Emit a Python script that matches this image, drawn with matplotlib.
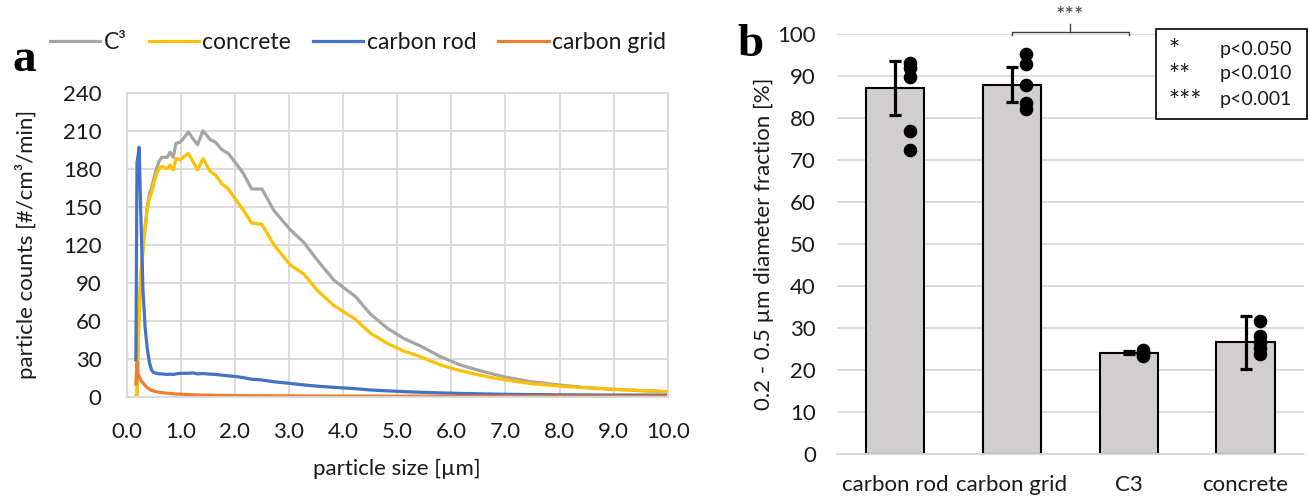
import matplotlib
matplotlib.use('Agg')
import matplotlib.pyplot as plt
from matplotlib.patches import Rectangle

plt.rcParams['font.family'] = ['Lato', 'DejaVu Sans']

# ---------------- data: panel a ----------------
particle_size = [0.17, 0.19, 0.21, 0.23, 0.26, 0.30, 0.34, 0.38, 0.42, 0.46, 0.50, 0.55,
                 0.60, 0.65, 0.70, 0.75, 0.80, 0.86, 0.91, 0.99, 1.07, 1.14, 1.22, 1.31,
                 1.41, 1.54, 1.64, 1.76, 1.88, 2.04, 2.16, 2.31, 2.50, 2.72, 3.02, 3.27,
                 3.52, 3.83, 4.23, 4.51, 4.82, 5.12, 5.43, 5.80, 6.17, 6.60, 7.00, 7.45,
                 8.00, 8.44, 9.00, 9.50, 10.0]
c3_counts = [0, 2, 40, 70, 95, 118, 135, 150, 160, 165, 172, 180,
             186, 189, 189, 189, 193, 189, 200, 201, 205, 209, 204, 199,
             210, 203, 201, 195, 192, 183, 176, 164, 164, 147, 132, 122,
             108, 92, 79, 65, 54, 46, 40, 31.6, 25, 19.7, 15.5, 12,
             9.2, 7.4, 5.8, 4.8, 4]
concrete_counts = [0, 0, 35, 65, 90, 115, 132, 148, 157, 161, 168, 176,
                   180, 182, 181, 180, 183, 179, 188, 187, 190, 192, 186, 179,
                   188, 178, 175, 168, 164, 154, 147, 137, 136, 120, 104, 97,
                   84, 72, 61, 50, 42, 36, 31.6, 25, 20.5, 16.3, 13.2, 10.5,
                   8.4, 7.1, 5.8, 4.8, 4]
carbon_rod_counts = [29, 185, 190, 197, 145, 85, 55, 38, 27, 21, 19, 18.5,
                     18, 18, 17.8, 17.6, 17.8, 17.5, 18, 18.4, 18.5, 18.5, 18.8, 18,
                     18.3, 17.8, 17.6, 17, 16.5, 15.8, 15, 13.8, 13.2, 11.8, 10.5, 9.3,
                     8.3, 7.4, 6.3, 5.3, 4.6, 4, 3.5, 3, 2.6, 2.2, 1.9, 1.7,
                     1.5, 1.4, 1.3, 1.3, 1.3]
carbon_grid_counts = [10, 27, 18, 16, 13, 11, 9, 7, 6, 5, 4.5, 4,
                      3.6, 3.2, 3, 2.7, 2.5, 2.3, 2.1, 2, 1.8, 1.6, 1.5, 1.4,
                      1.3, 1.2, 1.1, 1.0, 1.0, 0.9, 0.9, 0.8, 0.8, 0.7, 0.7, 0.6,
                      0.6, 0.5, 0.5, 0.5, 0.4, 0.4, 0.4, 0.4, 0.3, 0.3, 0.3, 0.3,
                      0.3, 0.3, 0.3, 0.3, 0.3]
series_names = ['C³', 'concrete', 'carbon rod', 'carbon grid']
x_ticks_a = [0, 1, 2, 3, 4, 5, 6, 7, 8, 9, 10]
y_ticks_a = [0, 30, 60, 90, 120, 150, 180, 210, 240]

# ---------------- data: panel b ----------------
categories = ['carbon rod', 'carbon grid', 'C3', 'concrete']
fraction_mean = [87.2, 87.9, 24.2, 26.7]
fraction_err = [6.4, 4.2, 0.3, 6.3]
fraction_points = [[93.0, 91.8, 89.8, 77.0, 72.3],
                   [95.2, 92.9, 87.8, 83.6, 82.0],
                   [24.9, 24.3, 23.8, 23.3],
                   [31.6, 28.2, 26.6, 25.2, 23.9]]
y_ticks_b = [0, 10, 20, 30, 40, 50, 60, 70, 80, 90, 100]
sig_symbols = ['*', '**', '***']
sig_labels = ['p<0.050', 'p<0.010', 'p<0.001']
bracket_pair = (1, 2)
bracket_label = '***'

W, H = 1309, 496
fig = plt.figure(figsize=(W / 100, H / 100), dpi=100)

def fx(px):
    return px / W

def fy(py):
    return 1 - py / H

grid_c = '#D9D9D9'
txt_c = '#1a1a1a'
FS = 16

# ---------------- panel a ----------------
axa = fig.add_axes([fx(126.7), fy(396.7), fx(667.7 - 126.7), (396.7 - 92.7) / H])
colors = ['#A5A5A5', '#FFC000', '#4472C4', '#ED7D31']
for vals, name, col in zip([c3_counts, concrete_counts, carbon_rod_counts, carbon_grid_counts],
                           series_names, colors):
    axa.plot(particle_size, vals, color=col, lw=2.3, label=name, solid_joinstyle='round')
axa.set_xlim(0, 10)
axa.set_ylim(0, 240)
axa.set_xticks(x_ticks_a)
axa.set_xticklabels([f'{v:.1f}' for v in x_ticks_a])
axa.set_yticks(y_ticks_a)
axa.grid(True, color=grid_c, lw=1.3)
axa.set_axisbelow(True)
for s in axa.spines.values():
    s.set_color(grid_c)
    s.set_linewidth(1.3)
axa.tick_params(length=0, labelsize=FS, colors=txt_c)
axa.tick_params(axis='y', pad=18)
axa.tick_params(axis='x', pad=18)
axa.set_xlabel('particle size [µm]', fontsize=FS, color=txt_c, labelpad=12)
axa.set_ylabel('particle counts [#/cm³/min]', fontsize=FS, color=txt_c, labelpad=19)
fig.legend(*axa.get_legend_handles_labels(), loc='center', ncol=4, frameon=False,
           bbox_to_anchor=(fx(358), fy(42.7)), fontsize=16.5, handlelength=2.2,
           handletextpad=0.15, columnspacing=0.95, labelcolor=txt_c)
fig.text(fx(13), fy(60), 'a', fontsize=34, fontweight='bold',
         family='Liberation Serif', ha='left', va='center')

# ---------------- panel b ----------------
axb = fig.add_axes([fx(836.7), fy(454.3), fx(1304 - 836.7), (454.3 - 33.8) / H])
xpos = list(range(len(categories)))
axb.bar(xpos, fraction_mean, width=0.5, color='#D0CECE', edgecolor='black', lw=1.5, zorder=2)
axb.errorbar(xpos, fraction_mean, yerr=fraction_err, fmt='none', ecolor='black',
             elinewidth=2.3, capsize=4.5, capthick=2.3, zorder=4)
for i, pts in enumerate(fraction_points):
    axb.plot([i + 0.124] * len(pts), pts, 'o', color='black', ms=8.8, zorder=5)
axb.set_xlim(-0.5, 3.5)
axb.set_ylim(0, 100)
axb.set_xticks(xpos)
axb.set_xticklabels(categories)
axb.set_yticks(y_ticks_b)
axb.grid(True, axis='y', color=grid_c, lw=1.3)
axb.set_axisbelow(True)
for k in ['left', 'right', 'top']:
    axb.spines[k].set_visible(False)
axb.spines['bottom'].set_color(grid_c)
axb.spines['bottom'].set_linewidth(1.3)
axb.tick_params(length=0, labelsize=FS, colors=txt_c)
axb.tick_params(axis='y', pad=15)
axb.tick_params(axis='x', pad=15)
axb.set_ylabel('0.2 - 0.5 µm diameter fraction [%]', fontsize=FS, color=txt_c, labelpad=2)

# significance bracket
b0, b1 = bracket_pair
bm = (b0 + b1) / 2
axb.plot([b0, b0, b1, b1], [99.6, 100.4, 100.4, 99.6], color='#404040', lw=1.0, clip_on=False, zorder=6)
axb.plot([bm, bm], [100.4, 102.4], color='#404040', lw=1.0, clip_on=False, zorder=6)
axb.text(bm, 104.2, bracket_label, ha='center', va='center', fontsize=16, color='#404040', clip_on=False)

fig.text(fx(737), fy(45), 'b', fontsize=34, fontweight='bold',
         family='Liberation Serif', ha='left', va='center')

# significance legend box
fig.patches.append(Rectangle((fx(1156), fy(119.3)), fx(1306.7 - 1156), (119.3 - 29) / H,
                             transform=fig.transFigure, facecolor='white',
                             edgecolor='black', lw=1.2, zorder=10))
rows_y = [49.3, 74, 100]
for sym, lab, ry in zip(sig_symbols, sig_labels, rows_y):
    fig.text(fx(1168), fy(ry + 2), sym, fontsize=19, ha='left', va='center', color=txt_c, zorder=11)
    fig.text(fx(1220), fy(ry), lab, fontsize=14, ha='left', va='center', color=txt_c, zorder=11)

fig.savefig('out.png', dpi=100)
